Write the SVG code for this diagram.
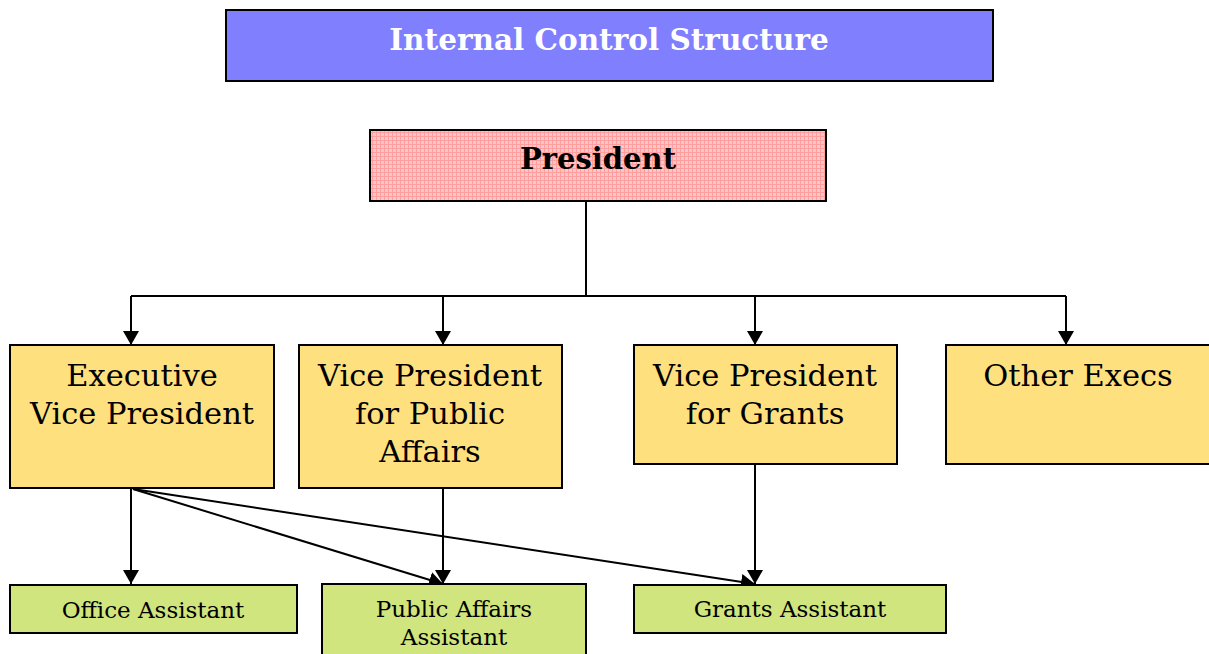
<svg xmlns="http://www.w3.org/2000/svg" width="1209" height="654" viewBox="0 0 1209 654">
  <defs>
    <style>
      .box { stroke: #000; stroke-width: 2; }
      .title { fill: #8080FF; }
      .pres { fill: url(#pinkGrid); }
      .exec { fill: #FFE07F; }
      .asst { fill: #D0E57E; }
      text { font-family: "DejaVu Serif", "Liberation Serif", serif; text-anchor: middle; fill: #000; }
      .t-title { font-size: 29.5px; font-weight: bold; fill: #fff; }
      .t-pres { font-size: 29px; font-weight: bold; }
      .t-exec { font-size: 30.5px; }
      .t-asst { font-size: 23px; }
      .conn { stroke: #000; stroke-width: 2; fill: none; }
      .arrow { marker-end: url(#head); }
    </style>
    <pattern id="pinkGrid" width="4" height="4" patternUnits="userSpaceOnUse">
      <rect width="4" height="4" fill="#FFC4C4"/>
      <path d="M0 0.5H4M0.5 0V4" stroke="#FF9E9E" stroke-width="1"/>
    </pattern>
    <marker id="head" viewBox="0 0 14 16" refX="14" refY="8" markerWidth="14" markerHeight="16" markerUnits="userSpaceOnUse" orient="auto">
      <path d="M0 0L14 8L0 16Z" fill="#000"/>
    </marker>
  </defs>

  <!-- connectors -->
  <g id="connectors">
    <path class="conn" d="M586 201V296M131 296H1066"/>
    <line class="conn arrow" x1="131" y1="296" x2="131" y2="345"/>
    <line class="conn arrow" x1="443" y1="296" x2="443" y2="345"/>
    <line class="conn arrow" x1="755" y1="296" x2="755" y2="345"/>
    <line class="conn arrow" x1="1066" y1="296" x2="1066" y2="345"/>
    <line class="conn arrow" x1="131" y1="488" x2="131" y2="584"/>
    <line class="conn arrow" x1="133" y1="489" x2="443" y2="584"/>
    <line class="conn arrow" x1="133" y1="489" x2="755" y2="584"/>
    <line class="conn arrow" x1="443" y1="488" x2="443" y2="584"/>
    <line class="conn arrow" x1="755" y1="464" x2="755" y2="584"/>
  </g>

  <g id="title">
    <rect class="box title" x="226" y="10" width="767" height="71"/>
    <text class="t-title" x="609" y="50">Internal Control Structure</text>
  </g>

  <g id="president">
    <rect class="box pres" x="370" y="130" width="456" height="71"/>
    <text class="t-pres" x="598" y="169">President</text>
  </g>

  <g id="exec-vp">
    <rect class="box exec" x="10" y="345" width="264" height="143"/>
    <text class="t-exec" x="142" y="386">Executive</text>
    <text class="t-exec" x="142" y="424">Vice President</text>
  </g>

  <g id="vp-public-affairs">
    <rect class="box exec" x="299" y="345" width="263" height="143"/>
    <text class="t-exec" x="430" y="386">Vice President</text>
    <text class="t-exec" x="430" y="424">for Public</text>
    <text class="t-exec" x="430" y="462">Affairs</text>
  </g>

  <g id="vp-grants">
    <rect class="box exec" x="634" y="345" width="263" height="119"/>
    <text class="t-exec" x="765" y="386">Vice President</text>
    <text class="t-exec" x="765" y="424">for Grants</text>
  </g>

  <g id="other-execs">
    <rect class="box exec" x="946" y="345" width="270" height="119"/>
    <text class="t-exec" x="1078" y="386">Other Execs</text>
  </g>

  <g id="office-assistant">
    <rect class="box asst" x="10" y="585" width="287" height="48"/>
    <text class="t-asst" x="153" y="618">Office Assistant</text>
  </g>

  <g id="public-affairs-assistant">
    <rect class="box asst" x="322" y="584" width="264" height="76"/>
    <text class="t-asst" x="454" y="617">Public Affairs</text>
    <text class="t-asst" x="454" y="645">Assistant</text>
  </g>

  <g id="grants-assistant">
    <rect class="box asst" x="634" y="585" width="312" height="48"/>
    <text class="t-asst" x="790" y="617">Grants Assistant</text>
  </g>
</svg>
